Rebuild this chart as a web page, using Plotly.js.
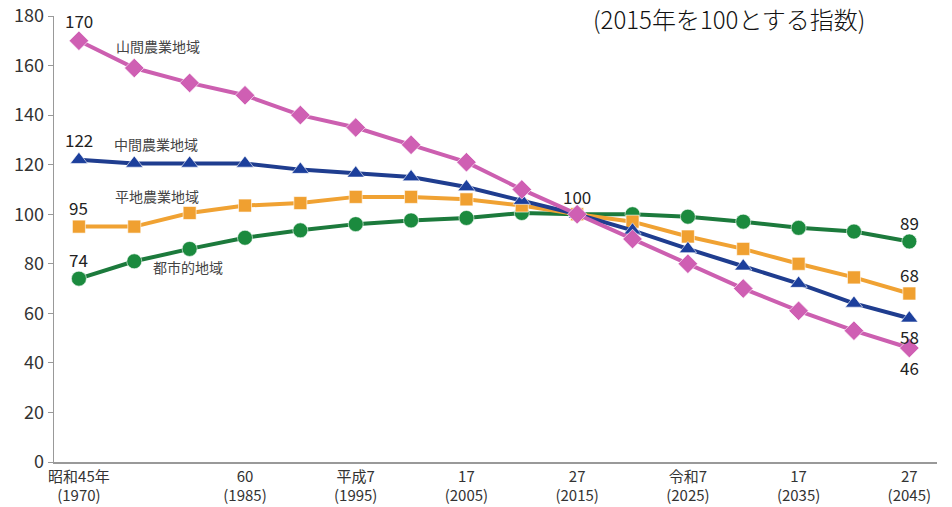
<!DOCTYPE html>
<html>
<head>
<meta charset="utf-8">
<script src="https://cdn.plot.ly/plotly-3.0.1.min.js"></script>
<style>html,body{margin:0;padding:0;background:#fff;}#chart{width:952px;height:507px;}</style>
</head>
<body>
<div id="chart"></div>
<script>
const years = [1970,1975,1980,1985,1990,1995,2000,2005,2010,2015,2020,2025,2030,2035,2040,2045];
const sankan = [170,159,153,148,140,135,128,121,110,100,90,80,70,61,53,46];
const chukan = [122,120.5,120.5,120.5,118,116.5,115,111,105.5,100,93.5,86,79,72,64,58];
const heichi = [95,95,100.5,103.5,104.5,107,107,106,103.5,100,97,91,86,80,74.5,68];
const toshi = [74,81,86,90.5,93.5,96,97.5,98.5,100.5,100,100,99,97,94.5,93,89];
const seriesNames = ["山間農業地域","中間農業地域","平地農業地域","都市的地域"];
const tickYears = [1970,1985,1995,2005,2015,2025,2035,2045];
const tickText = ["昭和45年<br>(1970)","60<br>(1985)","平成7<br>(1995)","17<br>(2005)","27<br>(2015)","令和7<br>(2025)","17<br>(2035)","27<br>(2045)"];
const titleText = "(2015年を100とする指数)";

const FONT = "'Noto Sans CJK JP', 'Noto Sans', sans-serif";
const mk = (name, y, color, mcolor, symbol, size) => ({
  type: 'scatter', mode: 'lines+markers', name: name, x: years, y: y,
  line: {color: color, width: 4},
  marker: {symbol: symbol, size: size, color: mcolor, line: {color: 'rgba(255,255,255,0.6)', width: 1}},
  cliponaxis: false, hoverinfo: 'skip'
});
const traces = [
  mk(seriesNames[3], toshi, '#1c7a3c', '#1b8a3e', 'circle', 15),
  mk(seriesNames[2], heichi, '#f0a233', '#f0a030', 'square', 13),
  mk(seriesNames[1], chukan, '#1f3d8f', '#1c3f9c', 'triangle-up', 15),
  mk(seriesNames[0], sankan, '#cc5fb0', '#cf5fb3', 'diamond', 15)
];

const lbl = (x, y, text, yshift) => ({x: x, y: y, xref: 'x', yref: 'y', text: text, showarrow: false,
  yshift: yshift, font: {family: FONT, size: 17, color: '#222'}});
const nameLbl = (x, y, text) => ({x: x, y: y, xref: 'x', yref: 'y', text: text, showarrow: false,
  xanchor: 'left', font: {family: FONT, size: 14, color: '#444'}});
const n = years.length - 1;
const annotations = [
  lbl(years[0], sankan[0], String(sankan[0]), 20),
  lbl(years[0], chukan[0], String(chukan[0]), 20),
  lbl(years[0], heichi[0], String(heichi[0]), 19),
  lbl(years[0], toshi[0], String(toshi[0]), 19),
  lbl(years[9], 100, '100', 18),
  lbl(years[n], toshi[n], String(toshi[n]), 19),
  lbl(years[n], heichi[n], String(heichi[n]), 19),
  lbl(years[n], chukan[n], String(chukan[n]), -18),
  lbl(years[n], sankan[n], String(sankan[n]), -19),
  nameLbl(1973.2, 168, seriesNames[0]),
  nameLbl(1973.0, 128.5, seriesNames[1]),
  nameLbl(1973.1, 107.5, seriesNames[2]),
  nameLbl(1976.5, 78.5, seriesNames[3]),
  {x: 0.765, y: 1.0, xref: 'paper', yref: 'paper', yanchor: 'bottom', xanchor: 'center', yshift: -22,
   text: titleText, showarrow: false, font: {family: FONT, size: 24, color: '#111', weight: 300}}
];

const layout = {
  width: 952, height: 507,
  margin: {l: 54, r: 15, t: 16, b: 45},
  paper_bgcolor: '#fff', plot_bgcolor: '#fff',
  showlegend: false,
  font: {family: FONT, color: '#333'},
  xaxis: {range: [1967.75, 2047.5], tickvals: tickYears, ticktext: tickText, showgrid: false, zeroline: false,
    showline: true, linecolor: '#999', linewidth: 1.5, ticks: '', tickfont: {family: FONT, size: 15, color: '#333'}},
  yaxis: {range: [0, 180], tickvals: [0,20,40,60,80,100,120,140,160,180], showgrid: false, zeroline: false,
    showline: true, linecolor: '#999', linewidth: 1.5, ticks: 'outside', ticklen: 5, tickcolor: '#999',
    tickfont: {family: FONT, size: 18, color: '#333'}},
  annotations: annotations
};
Plotly.newPlot('chart', traces, layout, {displayModeBar: false, staticPlot: true});
</script>
</body>
</html>
